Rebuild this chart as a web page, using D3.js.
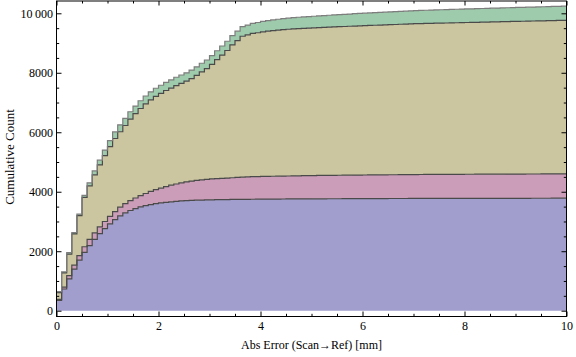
<!DOCTYPE html>
<html>
<head>
<meta charset="utf-8">
<script src="https://cdn.jsdelivr.net/npm/d3@7"></script>
<style>
  body { margin: 0; background: #fff; }
  text { font-family: "Liberation Serif", "Times New Roman", serif; font-size: 12px; fill: #000; }
</style>
</head>
<body>
<div id="chart"></div>
<script>
// histogram bins are 0.1 mm wide, 100 bins from 0 to 10
var binWidth = 0.1;

// cumulative counts for each group, bottom to top
var countBlue = [350, 730, 1070, 1400, 1700, 1960, 2190, 2400, 2590, 2760,
    2920, 3060, 3190, 3290, 3370, 3430, 3490, 3535, 3570, 3600,
    3625, 3645, 3662, 3677, 3690, 3700, 3708, 3715, 3720, 3725,
    3729, 3732, 3735, 3738, 3740, 3742, 3744, 3746, 3748, 3750,
    3752, 3753, 3754, 3755, 3756, 3757, 3758, 3759, 3760, 3760,
    3761, 3762, 3763, 3764, 3765, 3765, 3766, 3767, 3768, 3768,
    3769, 3770, 3770, 3771, 3771, 3772, 3772, 3773, 3773, 3774,
    3774, 3775, 3775, 3775, 3776, 3776, 3776, 3777, 3777, 3777,
    3778, 3778, 3778, 3778, 3779, 3779, 3779, 3779, 3780, 3780,
    3780, 3780, 3780, 3781, 3781, 3781, 3781, 3782, 3782, 3782];

var countPink = [30, 60, 110, 130, 150, 190, 210, 220, 230, 240,
    250, 270, 290, 310, 330, 360, 380, 405, 440, 470,
    495, 525, 558, 583, 610, 630, 652, 665, 680, 690,
    701, 708, 715, 722, 730, 738, 746, 754, 757, 760,
    763, 765, 767, 769, 771, 773, 775, 777, 779, 781,
    783, 785, 786, 787, 788, 789, 790, 791, 792, 793,
    794, 795, 796, 797, 798, 799, 800, 801, 802, 803,
    804, 805, 806, 806, 807, 807, 808, 808, 809, 809,
    810, 810, 811, 811, 812, 812, 813, 813, 814, 814,
    815, 815, 816, 816, 816, 817, 817, 817, 818, 818];

var countKhaki = [230, 480, 725, 1050, 1345, 1660, 1800, 1950, 2080, 2215,
    2345, 2460, 2538, 2628, 2740, 2834, 2929, 3015, 3082, 3139,
    3187, 3235, 3263, 3311, 3344, 3387, 3445, 3533, 3631, 3724,
    3850, 4000, 4145, 4290, 4466, 4602, 4738, 4777, 4819, 4836,
    4863, 4880, 4895, 4910, 4922, 4933, 4942, 4950, 4956, 4961,
    4966, 4972, 4978, 4984, 4990, 4995, 5000, 5006, 5012, 5017,
    5022, 5027, 5032, 5037, 5042, 5047, 5052, 5057, 5062, 5067,
    5072, 5075, 5078, 5081, 5084, 5087, 5090, 5093, 5096, 5099,
    5102, 5105, 5108, 5112, 5115, 5118, 5121, 5125, 5128, 5132,
    5135, 5138, 5141, 5144, 5147, 5150, 5154, 5157, 5161, 5164];

var countGreen = [30, 40, 45, 50, 55, 70, 100, 130, 160, 185,
    205, 220, 232, 242, 250, 256, 261, 265, 268, 271,
    273, 275, 277, 279, 281, 283, 285, 287, 289, 291,
    295, 300, 305, 310, 314, 318, 322, 328, 336, 344,
    352, 357, 362, 366, 370, 374, 378, 381, 384, 387,
    390, 393, 396, 399, 402, 405, 408, 411, 414, 417,
    420, 422, 424, 426, 428, 430, 432, 434, 436, 438,
    440, 442, 444, 446, 448, 450, 452, 454, 455, 456,
    457, 458, 459, 460, 461, 462, 463, 464, 465, 466,
    467, 468, 469, 470, 471, 472, 473, 474, 475, 476];

var groupKeys = ["blue", "pink", "khaki", "green"];
var groupColors = ["#a19ecd", "#cc9db8", "#cbc6a0", "#9dcbab"];

var xTicks = [0, 2, 4, 6, 8, 10];
var yTicks = [0, 2000, 4000, 6000, 8000, 10000];

var width = 576, height = 357;
var frame = { left: 56.5, right: 566.5, top: 1, bottom: 316.5 };

var svg = d3.select("#chart")
    .append("svg")
    .attr("width", width)
    .attr("height", height);

var x = d3.scaleLinear().domain([0, 10]).range([frame.left, frame.right]);
var y = d3.scaleLinear().domain([0, 10000]).range([310.7, 13.3]);

// rows for the stack, last row repeated at x = 10 so the final step reaches the edge
var rows = countBlue.map(function (d, i) {
    return { x: i * binWidth, blue: countBlue[i], pink: countPink[i], khaki: countKhaki[i], green: countGreen[i] };
});
var last = rows[rows.length - 1];
rows.push({ x: 10, blue: last.blue, pink: last.pink, khaki: last.khaki, green: last.green });

var series = d3.stack().keys(groupKeys)(rows);

svg.append("clipPath").attr("id", "plotClip")
    .append("rect")
    .attr("x", frame.left).attr("y", frame.top)
    .attr("width", frame.right - frame.left)
    .attr("height", frame.bottom - frame.top);

var plot = svg.append("g").attr("clip-path", "url(#plotClip)");

var area = d3.area()
    .curve(d3.curveStepAfter)
    .x(function (d) { return x(d.data.x); })
    .y0(function (d) { return y(d[0]); })
    .y1(function (d) { return y(d[1]); });

var topLine = d3.line()
    .curve(d3.curveStepAfter)
    .x(function (d) { return x(d.data.x); })
    .y(function (d) { return y(d[1]); });

plot.selectAll(".layer")
    .data(series)
    .enter().append("path")
    .attr("class", "layer")
    .attr("d", area)
    .attr("fill", function (d, i) { return groupColors[i]; });

plot.selectAll(".edge")
    .data(series)
    .enter().append("path")
    .attr("class", "edge")
    .attr("d", topLine)
    .attr("fill", "none")
    .attr("stroke", function (d, i) { return i === 3 ? "#7d7d7d" : "#4a4a4a"; })
    .attr("stroke-width", 1.2);

// frame ticks point inwards on all four sides (Mathematica style)
var fmt = function (d) { return d >= 10000 ? "10\u2009000" : String(d); };
var xMinor = d3.range(0, 10.01, 0.5).filter(function (d) { return d % 2 !== 0; });
var yMinor = d3.range(0, 10401, 500).filter(function (d) { return d % 2000 !== 0; });

function addAxis(axis, tx, ty) {
    var g = svg.append("g").attr("transform", "translate(" + tx + "," + ty + ")").call(axis);
    g.select(".domain").remove();
    g.selectAll("line").attr("stroke", "#000").attr("stroke-width", 1);
    g.selectAll("text").attr("font-family", null).attr("font-size", null);
    return g;
}

addAxis(d3.axisBottom(x).tickValues(xTicks).tickSizeInner(-5).tickSizeOuter(0).tickPadding(5).tickFormat(fmt), 0, frame.bottom);
addAxis(d3.axisBottom(x).tickValues(xMinor).tickSizeInner(-2.7).tickSizeOuter(0).tickFormat(""), 0, frame.bottom);
addAxis(d3.axisTop(x).tickValues(xTicks).tickSizeInner(-4.5).tickSizeOuter(0).tickFormat(""), 0, frame.top);
addAxis(d3.axisTop(x).tickValues(xMinor).tickSizeInner(-2.5).tickSizeOuter(0).tickFormat(""), 0, frame.top);

addAxis(d3.axisLeft(y).tickValues(yTicks).tickSizeInner(-5).tickSizeOuter(0).tickPadding(3.5).tickFormat(fmt), frame.left, 0);
addAxis(d3.axisLeft(y).tickValues(yMinor).tickSizeInner(-2.7).tickSizeOuter(0).tickFormat(""), frame.left, 0);
addAxis(d3.axisRight(y).tickValues(yTicks).tickSizeInner(-5).tickSizeOuter(0).tickFormat(""), frame.right, 0);
addAxis(d3.axisRight(y).tickValues(yMinor).tickSizeInner(-2.7).tickSizeOuter(0).tickFormat(""), frame.right, 0);

svg.append("rect")
    .attr("x", frame.left).attr("y", frame.top)
    .attr("width", frame.right - frame.left)
    .attr("height", frame.bottom - frame.top)
    .attr("fill", "none")
    .attr("stroke", "#000")
    .attr("stroke-width", 1);

svg.append("text")
    .attr("x", (frame.left + frame.right) / 2)
    .attr("y", 349)
    .attr("text-anchor", "middle")
    .text("Abs Error (Scan\u2192Ref) [mm]");

svg.append("text")
    .attr("transform", "translate(13.5," + 157 + ") rotate(-90)")
    .attr("text-anchor", "middle")
    .style("font-size", "13px")
    .text("Cumulative Count");
</script>
</body>
</html>
